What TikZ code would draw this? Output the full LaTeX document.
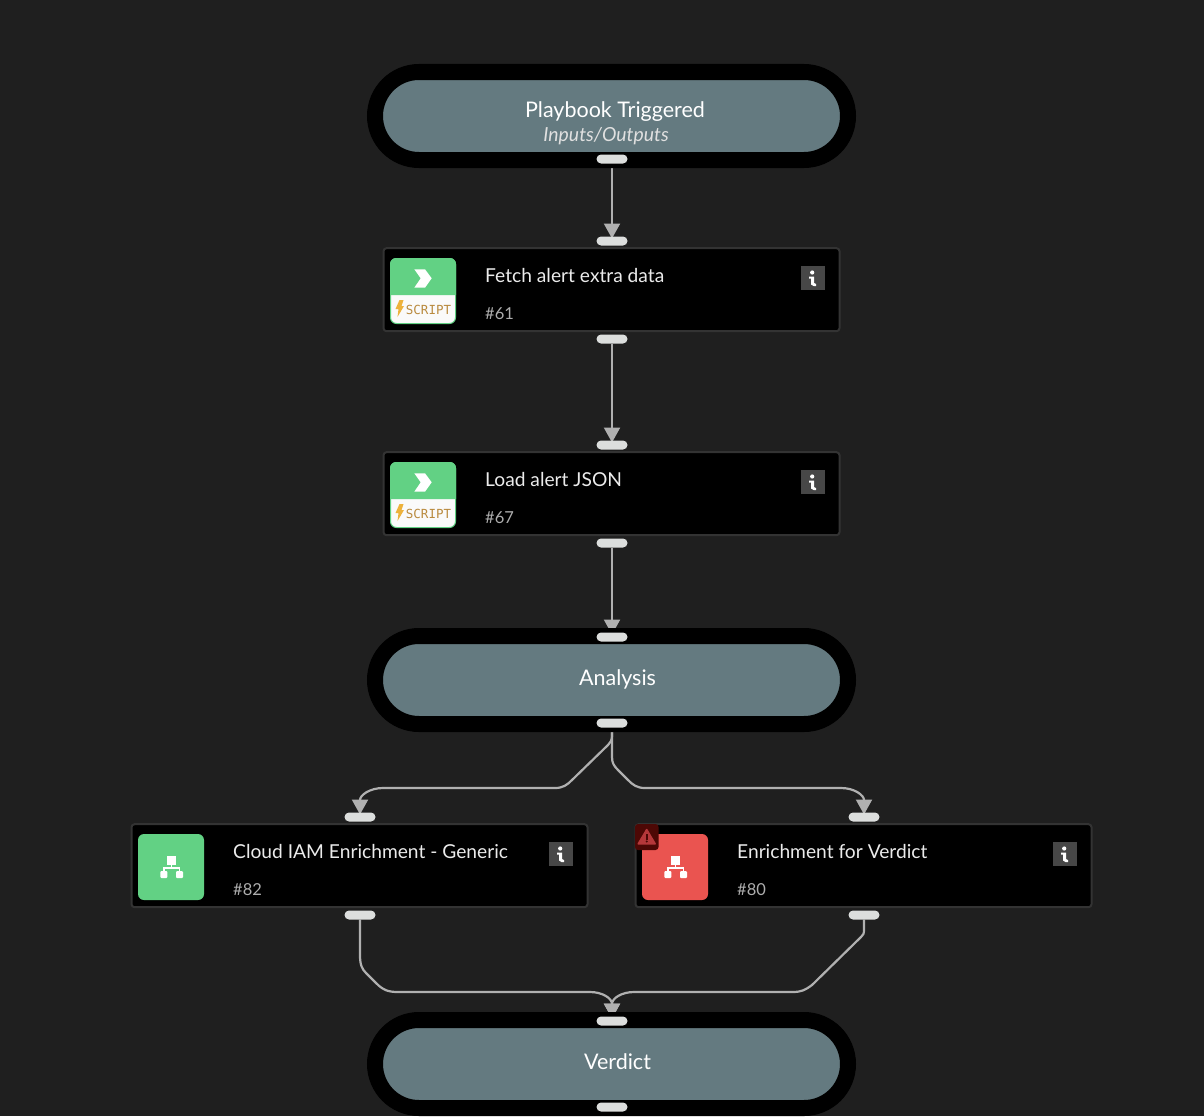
\documentclass[tikz,border=0pt]{standalone}
\usepackage{fontspec}
\setmainfont{Lato}
\newfontfamily\badgefont{DejaVu Sans Mono}
\usepackage{tikz}
\usetikzlibrary{positioning}
\usetikzlibrary{arrows.meta,backgrounds}

\definecolor{pagebg}{HTML}{1F1F1F}
\definecolor{pillfill}{HTML}{647A80}
\definecolor{cardedge}{HTML}{333333}
\definecolor{portfill}{HTML}{DCDEDD}
\definecolor{flowgray}{HTML}{B0B0B0}
\definecolor{okgreen}{HTML}{62D184}
\definecolor{badred}{HTML}{EA5450}
\definecolor{warnbox}{HTML}{4D0805}
\definecolor{warnmark}{HTML}{B5383A}
\definecolor{infogray}{HTML}{474747}
\definecolor{scriptbrown}{HTML}{B98A3E}
\definecolor{boltyellow}{HTML}{EDB23C}

\tikzset{
  pillbox/.style={draw=black, fill=pillfill, line width=16pt, rounded corners=44pt, minimum width=473pt, minimum height=88pt, inner sep=0pt, outer sep=0pt},
  cardbox/.style={draw=cardedge, fill=black, line width=2pt, rounded corners=3pt, minimum width=456pt, minimum height=83pt, inner sep=0pt, outer sep=0pt},
  portbox/.style={fill=portfill, rounded corners=4.5pt, minimum width=31pt, minimum height=9pt, inner sep=0pt, outer sep=0pt},
  pilltext/.style={text=white, inner sep=0pt, font=\fontsize{21.5}{26}\selectfont},
  subtext/.style={text=white!88!black, inner sep=0pt, font=\fontsize{19.4}{22}\selectfont\itshape},
  cardtitle/.style={anchor=west, text=white!92!black, inner sep=0pt, font=\fontsize{19.2}{22}\selectfont},
  cardnum/.style={anchor=west, text=white!68!black, inner sep=0pt, font=\fontsize{16.5}{20}\selectfont},
  flow/.style={draw=flowgray, line width=2.2pt, shorten >=-2pt, -{Triangle[length=15pt,width=16pt,fill=flowgray]}},
  treeicon/.pic={
    \fill[white] (29,21.7) rectangle (38,31);
    \fill[white, rounded corners=1pt] (22.3,37) rectangle (29.3,44);
    \fill[white, rounded corners=1pt] (38,37) rectangle (45,44);
    \draw[white, line width=1.5pt] (33.5,30) -- (33.5,34) (25.8,38) |- (41.5,34) -- (41.5,38);
  },
  scripticon/.pic={
    \draw[draw=okgreen, fill=white!98!black, line width=1pt, rounded corners=6pt] (0.5,0.5) rectangle (65.5,65.5);
    \fill[okgreen] (0,37) [rounded corners=6pt] -- (0,0) -- (66,0) [sharp corners] -- (66,37) -- cycle;
    \fill[white] (24.3,11.3) -- (35,11.3) -- (41.7,20.3) -- (35,29.7) -- (24.3,29.7) -- (30.7,20.3) -- cycle;
    \fill[boltyellow] (9.5,42) -- (13.5,42) -- (11.5,48) -- (14,48) -- (7.5,59) -- (8.5,51) -- (5.5,51) -- cycle;
    \node[text=scriptbrown, inner sep=0pt, font=\fontsize{12.5}{14}\badgefont] (-label) at (38.5,51.5) {SCRIPT};
  },
  infoicon/.pic={
    \fill[infogray] (0,0) rectangle (24,24);
    \fill[white] (11.2,6.5) circle (2.1pt);
    \fill[white] (8,10.5) -- (13,10.5) -- (13,17) -- (15,18) -- (15,20) -- (12.5,20) -- (10,18.5) -- (10,12.5) -- (8,12.5) -- cycle;
  },
  warnicon/.pic={
    \fill[warnbox, rounded corners=3pt] (0,0) rectangle (23.5,26);
    \fill[warnmark, draw=warnmark, line width=1.5pt, line join=round] (11.7,5.5) -- (20.2,19.8) -- (3.2,19.8) -- cycle;
    \fill[warnbox] (10.8,10) rectangle (12.6,15.5);
    \fill[warnbox] (11.7,17.5) circle (1.1pt);
  },
}

\begin{document}
\begin{tikzpicture}[x=1pt, y=-1pt, node distance=88pt]
    \useasboundingbox (0,0) rectangle (1204,1116);

    % Nodes
    \node [pillbox] (triggered) at (611.5,116) {};
    \node [cardbox, below=88.2pt of triggered] (fetch) {};
    \node [cardbox, below=121pt of fetch] (load) {};
    \node [pillbox, below=100.8pt of load] (analysis) {};
    \node [cardbox] (cloud) at (359.5,865.7) {};
    \node [cardbox] (enrich) at (863.5,865.7) {};
    \node [pillbox] (verdict) at (611.5,1064) {};

    % Ports
    \node [portbox, xshift=.5pt, yshift=1pt] (triggeredout) at (triggered.south) {};
    \node [portbox, xshift=.5pt, yshift=7.2pt] (fetchin) at (fetch.north) {};
    \node [portbox, xshift=.5pt, yshift=-7.8pt] (fetchout) at (fetch.south) {};
    \node [portbox, xshift=.5pt, yshift=7.2pt] (loadin) at (load.north) {};
    \node [portbox, xshift=.5pt, yshift=-7.8pt] (loadout) at (load.south) {};
    \node [portbox, xshift=.5pt, yshift=-1pt] (analysisin) at (analysis.north) {};
    \node [portbox, xshift=.5pt, yshift=1pt] (analysisout) at (analysis.south) {};
    \node [portbox, xshift=.5pt, yshift=7.2pt] (cloudin) at (cloud.north) {};
    \node [portbox, xshift=.5pt, yshift=-7.8pt] (cloudout) at (cloud.south) {};
    \node [portbox, xshift=.5pt, yshift=7.2pt] (enrichin) at (enrich.north) {};
    \node [portbox, xshift=.5pt, yshift=-7.8pt] (enrichout) at (enrich.south) {};
    \node [portbox, xshift=.5pt, yshift=-1pt] (verdictin) at (verdict.north) {};
    \node [portbox, xshift=.5pt, yshift=1pt] (verdictout) at (verdict.south) {};

    % Labels
    \node [pilltext] (triggeredtext) at (615,112) {Playbook Triggered};
    \node [subtext] (triggeredsub) at (606,136.5) {Inputs/Outputs};
    \node [pilltext] (analysistext) at (617.5,679) {Analysis};
    \node [pilltext] (verdicttext) at (617.5,1062) {Verdict};
    \node [cardtitle] (fetchtitle) at (485,276) {Fetch alert extra data};
    \node [cardnum] (fetchnum) at (485,314) {\#61};
    \node [cardtitle] (loadtitle) at (485,480) {Load alert JSON};
    \node [cardnum] (loadnum) at (485,518) {\#67};
    \node [cardtitle] (cloudtitle) at (233,851.3) {Cloud IAM Enrichment - Generic};
    \node [cardnum] (cloudnum) at (233,890) {\#82};
    \node [cardtitle] (enrichtitle) at (737,851.3) {Enrichment for Verdict};
    \node [cardnum] (enrichnum) at (737,890) {\#80};

    % Icons
    \pic (fetchicon) at (390,258) {scripticon};
    \pic (loadicon) at (390,462) {scripticon};
    \fill [okgreen, rounded corners=6pt] (138,834) rectangle (204,900);
    \pic (cloudicon) at (138,834) {treeicon};
    \fill [badred, rounded corners=6pt] (642,834) rectangle (708,900);
    \pic (enrichicon) at (642,834) {treeicon};
    \pic (enrichwarn) at (635,824) {warnicon};
    \pic (fetchinfo) at (801,266) {infoicon};
    \pic (loadinfo) at (801,470) {infoicon};
    \pic (cloudinfo) at (549,842) {infoicon};
    \pic (enrichinfo) at (1053,842) {infoicon};

    % Arrows
    \begin{scope}[on background layer]
      \fill [pagebg] (0,0) rectangle (1204,1116);
      \draw [flow] (triggeredout) -- (fetchin);
      \draw [flow] (fetchout) -- (loadin);
      \draw [flow] (loadout) -- (analysisin);
      \draw [flow] (analysisout.south) -- (612,736) .. controls (612,740) and (610.5,742.5) .. (608,745) -- (572,780) .. controls (567,785) and (563,788) .. (555,788) -- (383,788) .. controls (370,788) and (360,795) .. (cloudin.north);
      \draw [flow] (analysisout.south) -- (612,757) .. controls (612,763) and (614,766) .. (618,770) -- (628,780) .. controls (633,785) and (637,788) .. (645,788) -- (841,788) .. controls (854,788) and (864,795) .. (enrichin.north);
      \draw [flow] (cloudout.south) -- (360,955) .. controls (360,965) and (362,969) .. (366,973) -- (376,983) .. controls (383,990) and (388,992) .. (398,992) -- (590,992) .. controls (602,992) and (612,998) .. (verdictin.north);
      \draw [flow] (enrichout.south) -- (864,930) .. controls (864,934) and (863,935) .. (861,937) -- (812,985) .. controls (805,990) and (802,992) .. (792,992) -- (634,992) .. controls (622,992) and (612,998) .. (verdictin.north);
    \end{scope}
\end{tikzpicture}
\end{document}
